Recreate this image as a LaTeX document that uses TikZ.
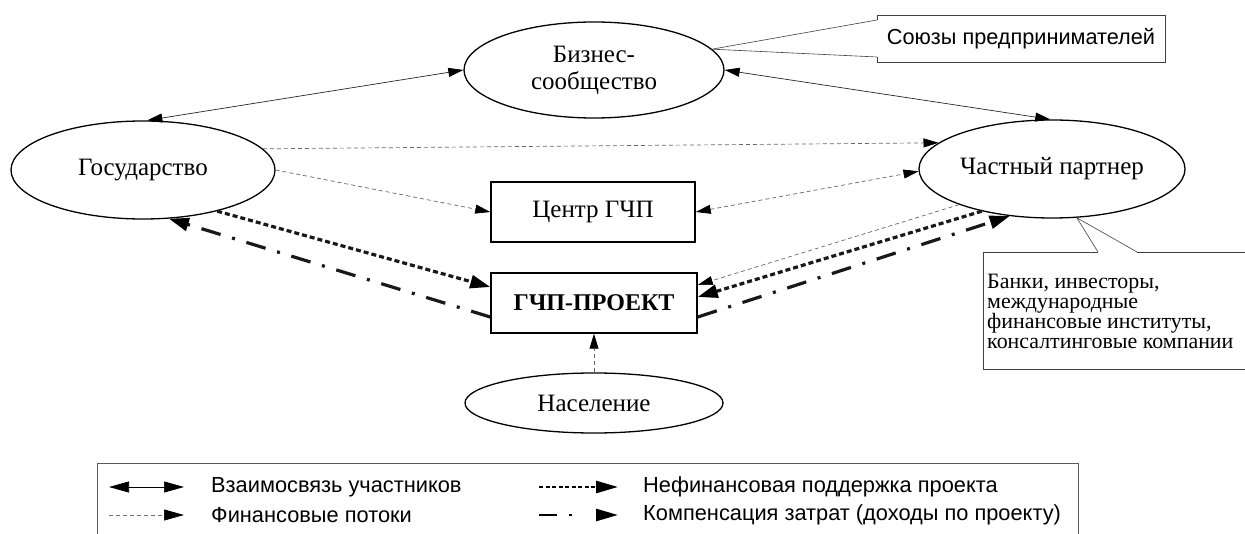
\documentclass[tikz,border=0pt]{standalone}
\usepackage{fontspec}
\setmainfont{Liberation Serif}
\newfontfamily\sansf{Liberation Sans}
\usetikzlibrary{shapes.geometric,arrows.meta,calc}
\begin{document}
\begin{tikzpicture}[x=1pt,y=-1pt,
  ell/.style={ellipse,draw=black,line width=1.3pt,inner sep=0pt,font=\fontsize{25}{27}\selectfont},
  bx/.style={rectangle,draw=black,line width=1.5pt,inner sep=0pt,font=\fontsize{25}{27}\selectfont},
  rel/.style={line width=0.7pt,draw=black!85,{Triangle[length=15pt,width=9pt,color=black]}-{Triangle[length=15pt,width=9pt,color=black]}},
  fin/.style={line width=0.7pt,draw=black!60,dash pattern=on 4pt off 3pt,-{Triangle[length=15pt,width=9pt,color=black]}},
  finb/.style={line width=0.7pt,draw=black!60,dash pattern=on 4pt off 3pt,{Triangle[length=15pt,width=9pt,color=black]}-{Triangle[length=15pt,width=9pt,color=black]}},
  sup/.style={line width=3.2pt,draw=black!90,dash pattern=on 5pt off 3pt,-{Triangle[length=20pt,width=13pt,color=black]}},
  comp/.style={line width=3.2pt,draw=black!90,dash pattern=on 20pt off 12pt on 3pt off 12pt,-{Triangle[length=20pt,width=13pt,color=black]}},
  call/.style={line width=0.6pt,draw=black!75},
  leg/.style={font=\sansf\fontsize{21.8}{24}\selectfont,anchor=west,inner sep=0pt}
]
\useasboundingbox (0,0) rectangle (1245,534);

% main nodes
\node[ell,minimum width=264pt,minimum height=98pt] (gos) at (143,170) {Государство};
\node[ell,minimum width=260pt,minimum height=96pt,align=center] (biz) at (594,70) {Бизнес-\\сообщество};
\node[ell,minimum width=266pt,minimum height=98pt] (priv) at (1052,169) {Частный партнер};
\node[ell,minimum width=258pt,minimum height=60pt] (nas) at (594,403) {Население};
\node[bx,minimum width=204pt,minimum height=60pt] (cent) at (593,212) {Центр ГЧП};
\node[bx,minimum width=206pt,minimum height=60pt,font=\fontsize{24}{27}\selectfont\bfseries] (proj) at (594,303) {ГЧП-ПРОЕКТ};

% callout: Союзы предпринимателей
\node[font=\sansf\fontsize{21.7}{24}\selectfont,inner sep=0pt] (sou) at (1021,39) {Союзы предпринимателей};
\coordinate (s1) at (877,20);
\coordinate (s2) at (877,57);
\draw[call] (s1) -- (877,15) -- (1165,15) -- (1165,62) -- (877,62) -- (s2);
\draw[call] (s1) -- (biz.10) -- (s2);

% callout: Банки ...
\node[inner sep=0pt,anchor=west,align=left,font=\fontsize{21.9}{20}\selectfont] (bank) at (987,311)
  {Банки, инвесторы,\\международные\\финансовые институты,\\консалтинговые компании};
\coordinate (b1) at (1098,252);
\coordinate (b2) at (1137,252);
\draw[call] (b1) -- (983,252) -- (983,369) -- (1246,369);
\draw[call] (b2) -- (1246,252);
\draw[call] (b1) -- (priv.-63) -- (b2);

% relations
\draw[rel] (gos.85) -- (biz.west);
\draw[rel] (biz.east) -- (priv.92);

% financial flows
\draw[fin] (gos.10.8) -- (priv.167.7);
\draw[fin] (gos.east) -- (cent.west);
\draw[finb] (cent.east) -- (priv.181);
\draw[fin] (priv.201.4) -- ([yshift=18pt]proj.east);
\draw[fin] (nas.north) -- (proj.south);

% non-financial support
\draw[sup] (gos.-29.2) -- ([yshift=16pt]proj.west);
\draw[sup] (priv.211.9) -- ([yshift=6pt]proj.east);

% compensation
\draw[comp] ([yshift=-14pt]proj.west) -- (gos.-62);
\draw[comp] ([yshift=-14pt]proj.east) -- (priv.228.8);

% legend
\draw[line width=1pt,draw=black!65] (97,534) -- (97,463) -- (1078,463) -- (1078,534);
\coordinate (l1a) at (109,487); \coordinate (l1b) at (184,487);
\coordinate (l2a) at (109,515); \coordinate (l2b) at (184,515);
\coordinate (l3a) at (539,487); \coordinate (l3b) at (618,487);
\coordinate (l4a) at (539,515); \coordinate (l4b) at (618,515);
\draw[line width=0.7pt,draw=black,{Triangle[length=20pt,width=11pt]}-{Triangle[length=20pt,width=11pt]}] (l1a) -- (l1b);
\draw[line width=0.7pt,draw=black!55,dash pattern=on 4pt off 3pt,-{Triangle[length=20pt,width=11pt,color=black]}] (l2a) -- (l2b);
\draw[line width=2.6pt,draw=black,dash pattern=on 4pt off 2.5pt,-{Triangle[length=22pt,width=12pt]}] (l3a) -- (l3b);
\draw[line width=2.6pt,draw=black,dash pattern=on 18pt off 12pt on 3pt off 40pt,-{Triangle[length=22pt,width=12pt]}] (l4a) -- (l4b);
\node[leg] (t1) at (211,487) {Взаимосвязь участников};
\node[leg] (t2) at (211,515) {Финансовые потоки};
\node[leg] (t3) at (643,487) {Нефинансовая поддержка проекта};
\node[leg] (t4) at (643,515) {Компенсация затрат (доходы по проекту)};
\end{tikzpicture}
\end{document}
